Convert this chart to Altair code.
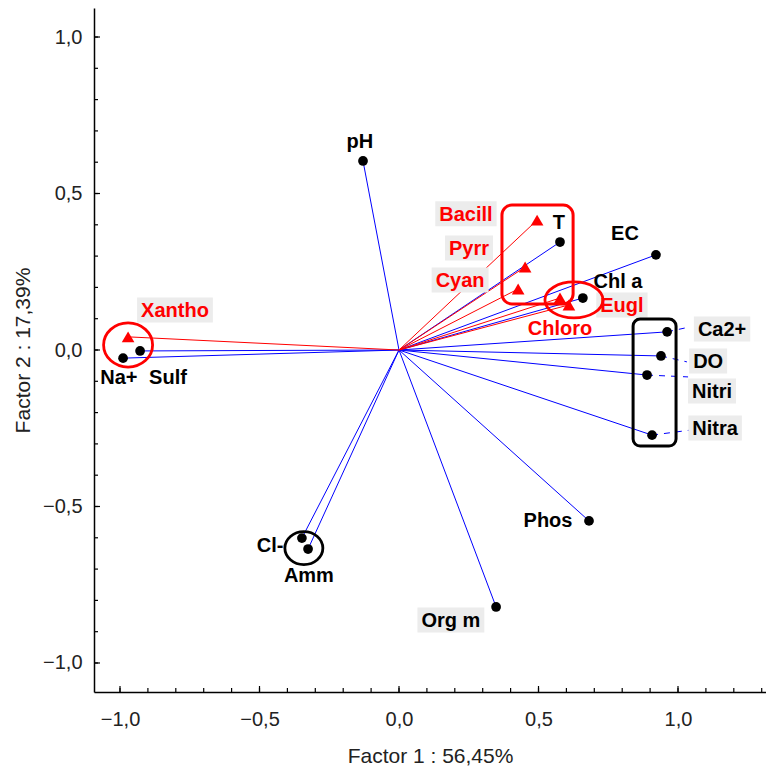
import altair as alt
import pandas as pd

# ---------------- data ----------------
var_names = ["pH", "T", "EC", "Chl a", "Ca2+", "DO", "Nitri", "Nitra",
             "Phos", "Org m", "Cl-", "Amm", "Na+", "Sulf"]
var_x = [-0.129, 0.577, 0.921, 0.659, 0.961, 0.939, 0.889, 0.907,
         0.681, 0.348, -0.348, -0.326, -0.989, -0.928]
var_y = [0.604, 0.345, 0.304, 0.166, 0.058, -0.019, -0.080, -0.272,
         -0.546, -0.821, -0.601, -0.636, -0.026, -0.003]
var_lx = [-0.140, 0.573, 0.810, 0.785, 1.158, 1.108, 1.122, 1.133,
          0.534, 0.186, -0.462, -0.323, -1.004, -0.828]
var_ly = [0.668, 0.409, 0.374, 0.220, 0.067, -0.035, -0.131, -0.249,
          -0.543, -0.863, -0.623, -0.719, -0.086, -0.086]

sp_names = ["Xantho", "Bacill", "Pyrr", "Cyan", "Eugl", "Chloro"]
sp_x = [-0.971, 0.495, 0.452, 0.427, 0.577, 0.609]
sp_y = [0.042, 0.415, 0.265, 0.195, 0.166, 0.144]
sp_lx = [-0.803, 0.240, 0.251, 0.219, 0.799, 0.577]
sp_ly = [0.128, 0.435, 0.326, 0.224, 0.144, 0.070]

boxed_labels = ["Xantho", "Bacill", "Pyrr", "Cyan", "Eugl",
                "Ca2+", "DO", "Nitri", "Nitra", "Org m"]

leader_names = ["Ca2+", "DO", "Nitri", "Nitra"]
leader_x2 = [1.039, 1.032, 1.036, 1.043]
leader_y2 = [0.073, -0.038, -0.086, -0.256]

# group outlines (data units)
red_box = {"x1": 0.369, "x2": 0.624, "y1": 0.147, "y2": 0.463}
black_box = {"x1": 0.839, "x2": 0.993, "y1": -0.307, "y2": 0.099}
ell_eugl = {"x": 0.627, "y": 0.160}
ell_xantho = {"x": -0.971, "y": 0.016}
ell_cl = {"x": -0.341, "y": -0.633}

major_ticks = [-1.0, -0.5, 0.0, 0.5, 1.0]
x_minor = [-1.0, -0.9, -0.8, -0.7, -0.6, -0.5, -0.4, -0.3, -0.2, -0.1, 0.0,
           0.1, 0.2, 0.3, 0.4, 0.5, 0.6, 0.7, 0.8, 0.9, 1.0, 1.1, 1.2, 1.3]
y_minor = [-1.0, -0.9, -0.8, -0.7, -0.6, -0.5, -0.4, -0.3, -0.2, -0.1, 0.0,
           0.1, 0.2, 0.3, 0.4, 0.5, 0.6, 0.7, 0.8, 0.9, 1.0]

# ---------------- layout ----------------
W, H = 672, 684
XD = [-1.0932, 1.3154]
YD = [-1.0927, 1.0927]
ppx = W / (XD[1] - XD[0])
ppy = H / (YD[1] - YD[0])

FONT = "Liberation Sans"
LBL_SIZE = 20
bold_w = {"A": 722, "B": 722, "C": 722, "D": 722, "E": 667, "H": 722, "N": 722,
          "O": 778, "P": 667, "S": 667, "T": 611, "X": 667, "a": 556, "c": 556,
          "e": 556, "f": 333, "g": 611, "h": 611, "i": 278, "l": 278, "m": 889,
          "n": 611, "o": 611, "p": 611, "r": 389, "s": 556, "t": 333, "u": 611,
          "y": 556, "2": 556, "+": 584, "-": 333, " ": 278}


def text_w(s):
    return sum(bold_w.get(c, 600) for c in s) * LBL_SIZE / 1000.0


vars_df = pd.DataFrame({"name": var_names, "x": var_x, "y": var_y,
                        "lx": var_lx, "ly": var_ly})
sp_df = pd.DataFrame({"name": sp_names, "x": sp_x, "y": sp_y,
                      "lx": sp_lx, "ly": sp_ly})

lab = pd.concat([vars_df, sp_df], ignore_index=True)
lab = lab[lab["name"].isin(boxed_labels)].copy()
lab["hw"] = lab["name"].map(lambda s: (text_w(s) / 2 + 4) / ppx)
lab["bx1"] = lab["lx"] - lab["hw"]
lab["bx2"] = lab["lx"] + lab["hw"]
lab["by1"] = lab["ly"] - 12.5 / ppy
lab["by2"] = lab["ly"] + 12.5 / ppy

lead_df = pd.DataFrame({"name": leader_names, "x2": leader_x2, "y2": leader_y2})
lead_df = lead_df.merge(vars_df[["name", "x", "y"]], on="name")

xs = alt.Scale(domain=XD, nice=False, zero=False)
ys = alt.Scale(domain=YD, nice=False, zero=False)

fmt = "replace(format(datum.value, '.1f'), '.', ',')"
x_axis = alt.Axis(values=major_ticks, labelExpr=fmt, ticks=False, grid=False,
                  title="Factor 1 : 56,45%", labelPadding=17, titlePadding=16)
y_axis = alt.Axis(values=major_ticks, labelExpr=fmt, ticks=False, grid=False,
                  title="Factor 2 : 17,39%", labelPadding=12, titlePadding=9)

base_v = alt.Chart(vars_df)
base_s = alt.Chart(sp_df)

rules_v = base_v.mark_rule(color="#0000ff", strokeWidth=1).encode(
    x=alt.X("x0:Q", scale=xs, axis=x_axis), y=alt.Y("y0:Q", scale=ys, axis=y_axis),
    x2="x:Q", y2="y:Q").transform_calculate(x0="0", y0="0")
rules_s = base_s.mark_rule(color="#ff0000", strokeWidth=1).encode(
    x=alt.X("x0:Q", scale=xs), y=alt.Y("y0:Q", scale=ys),
    x2="x:Q", y2="y:Q").transform_calculate(x0="0", y0="0")

leaders = alt.Chart(lead_df).mark_rule(color="#0000ff", strokeWidth=1,
                                       strokeDash=[6, 6]).encode(
    x=alt.X("x:Q", scale=xs), y=alt.Y("y:Q", scale=ys), x2="x2:Q", y2="y2:Q")

rect_red = alt.Chart(pd.DataFrame([red_box])).mark_rect(
    fillOpacity=0, stroke="#ff0000", strokeWidth=3, cornerRadius=10).encode(
    x=alt.X("x1:Q", scale=xs), x2="x2:Q", y=alt.Y("y1:Q", scale=ys), y2="y2:Q")
rect_black = alt.Chart(pd.DataFrame([black_box])).mark_rect(
    fillOpacity=0, stroke="#000000", strokeWidth=3, cornerRadius=7).encode(
    x=alt.X("x1:Q", scale=xs), x2="x2:Q", y=alt.Y("y1:Q", scale=ys), y2="y2:Q")


def ellipse(d, ratio, diam, color):
    path = "M -1 0 A 1 {r} 0 1 0 1 0 A 1 {r} 0 1 0 -1 0 Z".format(r=ratio)
    return alt.Chart(pd.DataFrame([d])).mark_point(
        shape=path, size=diam * diam, filled=False, stroke=color,
        strokeWidth=2.8, opacity=1).encode(
        x=alt.X("x:Q", scale=xs), y=alt.Y("y:Q", scale=ys))


e1 = ellipse(ell_eugl, 0.62, 58, "#ff0000")
e2 = ellipse(ell_xantho, 0.9, 49, "#ff0000")
e3 = ellipse(ell_cl, 0.87, 38, "#000000")

boxes = alt.Chart(lab).mark_rect(color="#ececec").encode(
    x=alt.X("bx1:Q", scale=xs), x2="bx2:Q", y=alt.Y("by1:Q", scale=ys), y2="by2:Q")

txt_v = base_v.mark_text(font=FONT, fontSize=LBL_SIZE, fontWeight="bold",
                         color="#000000", baseline="middle", align="center", dy=1).encode(
    x=alt.X("lx:Q", scale=xs), y=alt.Y("ly:Q", scale=ys), text="name:N")
txt_s = base_s.mark_text(font=FONT, fontSize=LBL_SIZE, fontWeight="bold",
                         color="#ff0000", baseline="middle", align="center", dy=1).encode(
    x=alt.X("lx:Q", scale=xs), y=alt.Y("ly:Q", scale=ys), text="name:N")

pts_v = base_v.mark_point(shape="circle", filled=True, color="#000000",
                          size=95, opacity=1).encode(
    x=alt.X("x:Q", scale=xs), y=alt.Y("y:Q", scale=ys))
pts_s = base_s.mark_point(shape="triangle-up", filled=True, color="#ff0000",
                          size=160, opacity=1).encode(
    x=alt.X("x:Q", scale=xs), y=alt.Y("y:Q", scale=ys))

xt_df = pd.DataFrame({"v": x_minor})
xt_df["major"] = xt_df["v"].round(1).isin(major_ticks)
yt_df = pd.DataFrame({"v": y_minor})
yt_df["major"] = yt_df["v"].round(1).isin(major_ticks)

xt_min = alt.Chart(xt_df).mark_rule(color="#000000", strokeWidth=1.2).encode(
    x=alt.X("v:Q", scale=xs), y=alt.value(H), y2=alt.value(H - 4))
xt_maj = alt.Chart(xt_df[xt_df["major"]]).mark_rule(color="#000000", strokeWidth=1.2).encode(
    x=alt.X("v:Q", scale=xs), y=alt.value(H), y2=alt.value(H - 6))
yt_min = alt.Chart(yt_df).mark_rule(color="#000000", strokeWidth=1.2).encode(
    y=alt.Y("v:Q", scale=ys), x=alt.value(0), x2=alt.value(4))
yt_maj = alt.Chart(yt_df[yt_df["major"]]).mark_rule(color="#000000", strokeWidth=1.2).encode(
    y=alt.Y("v:Q", scale=ys), x=alt.value(0), x2=alt.value(6))

chart = alt.layer(
    rules_v, rules_s, leaders, boxes, rect_red, rect_black, e1, e2, e3,
    txt_v, txt_s, pts_v, pts_s, xt_min, xt_maj, yt_min, yt_maj
).properties(
    width=W, height=H,
    autosize=alt.AutoSizeParams(type="none"),
    padding={"left": 86, "top": 0, "right": 0, "bottom": 77},
).configure_view(stroke=None).configure_axis(
    labelFont=FONT, titleFont=FONT, labelFontSize=20, titleFontSize=21,
    labelColor="#222222", titleColor="#222222", titleFontWeight="normal",
    domainColor="#000000", domainWidth=1.5,
)

chart.save("out.html", embed_options={"renderer": "svg", "actions": False})
